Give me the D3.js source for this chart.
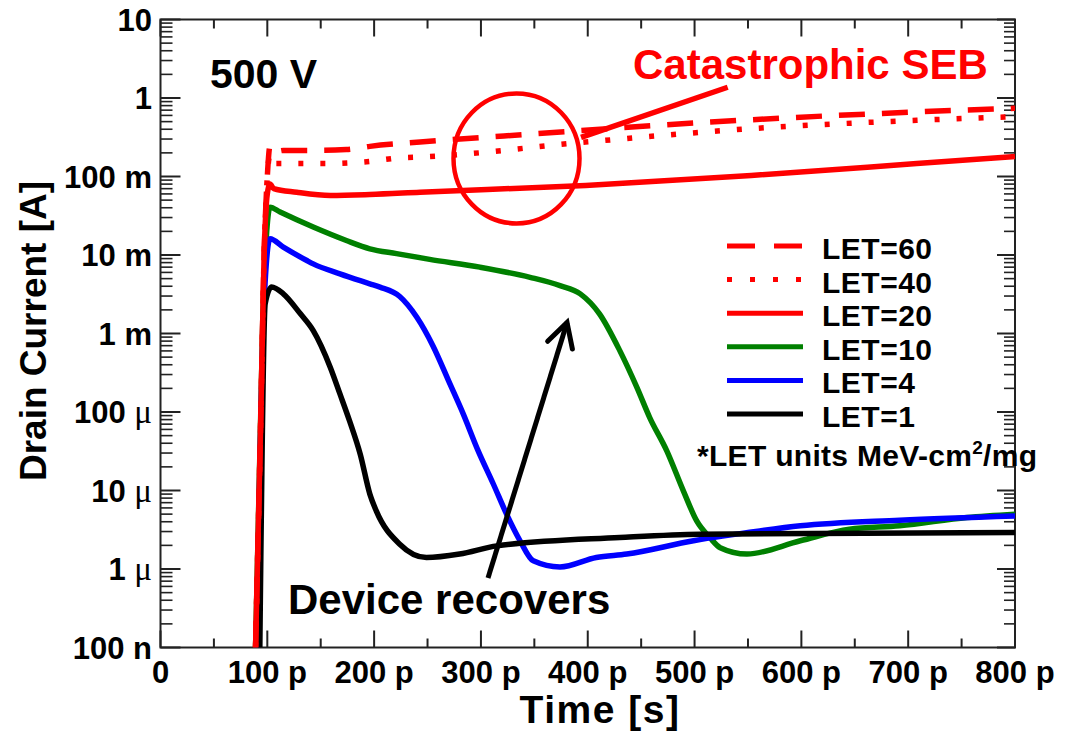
<!DOCTYPE html>
<html><head><meta charset="utf-8">
<script src="https://cdn.jsdelivr.net/npm/d3@7"></script>
<style>
body{margin:0;background:#fff}
svg{display:block}
text{font-family:"Liberation Sans",Arial,Helvetica,sans-serif;font-weight:bold;fill:#000}
</style>
</head><body>
<svg id="c" width="1070" height="734"></svg>
<script>
// ---- data (time in ps, drain current in A) ----
const xTickValues = [0,100,200,300,400,500,600,700,800];
const xTickLabels = ["0","100 p","200 p","300 p","400 p","500 p","600 p","700 p","800 p"];
const yTickValues = [1e-7,1e-6,1e-5,1e-4,1e-3,1e-2,1e-1,1,10];
const yTickNums   = ["100","1","10","100","1","10","100","1","10"];
const yTickUnits  = ["n","\u03bc","\u03bc","\u03bc","m","m","m","",""];

const let60 = [[89,1e-7],[94,1e-4],[97,1e-2],[100,0.1],[102.5,0.242],[106,0.205],[115,0.215],[143,0.215],[174,0.22],[196,0.242],[243,0.275],[352,0.351],[515,0.494],[747,0.697],[800,0.74]];
const let40 = [[89,1e-7],[94,1e-4],[97,1e-2],[100,0.1],[102.5,0.19],[105.6,0.146],[121,0.146],[159,0.146],[190,0.153],[227,0.174],[243,0.177],[398,0.275],[553,0.407],[708,0.52],[790,0.573],[800,0.58]];
const let20 = [[89,1e-7],[94,1e-4],[97,1e-2],[100,0.06],[102.5,0.08],[106,0.07],[127.5,0.063],[159,0.0574],[196,0.059],[243,0.063],[398,0.077],[553,0.103],[708,0.146],[800,0.18]];
const let10 = [[89,1e-7],[96,2e-3],[100,2.5e-2],[102.5,0.0407],[112,0.0352],[143,0.0227],[174,0.0153],[196,0.012],[221,0.0104],[252,0.0088],[299,0.007],[346,0.0052],[374,0.00408],[393,0.0032],[411,0.00178],[430,6.05e-4],[446,2.06e-4],[458,8.5e-5],[474,3.2e-5],[489.5,9.9e-6],[502,4.1e-6],[514.5,2.5e-6],[524,1.87e-6],[549,1.55e-6],[599,2.29e-6],[645,3.22e-6],[692,3.55e-6],[755,4.53e-6],[800,5.0e-6]];
const let4 = [[90,1e-7],[97,2.5e-3],[102.5,0.0161],[115,0.0126],[137,0.0085],[143,0.0077],[168,0.00575],[196,0.0043],[205.5,0.0039],[224,0.00296],[240,0.00161],[255,7.0e-4],[271,2.28e-4],[283.5,9.4e-5],[297,3.3e-5],[311.6,1.21e-5],[324,5.0e-6],[336.6,2.29e-6],[349,1.27e-6],[374,1.06e-6],[408,1.4e-6],[436.5,1.55e-6],[499,2.29e-6],[561,3.06e-6],[599,3.55e-6],[692,4.19e-6],[800,4.75e-6]];
const let1 = [[93,1e-7],[98,2.4e-3],[104,3.9e-3],[115,3.2e-3],[131,1.78e-3],[143,1.09e-3],[159,3.7e-4],[168,1.7e-4],[177,7.7e-5],[187,2.9e-5],[196,9.0e-6],[202,5.5e-6],[224,2.07e-6],[249,1.4e-6],[280,1.55e-6],[315,1.97e-6],[430,2.52e-6],[505,2.78e-6],[800,2.91e-6]];

const seriesNames = ["LET=60","LET=40","LET=20","LET=10","LET=4","LET=1"];
const seriesData  = [let60, let40, let20, let10, let4, let1];
const seriesColors = ["#ff0000","#ff0000","#ff0000","#008000","#0000ff","#000000"];
const seriesDash = ["26,17","5,17",null,null,null,null];
const drawOrder = [3,4,5,2,1,0];

// annotations in data space
const sebCircle = [333.3, 0.17];
const sebPointer = [[531, 1.37],[393.7, 0.315]];
const recoverArrow = [[306.6, 7.7e-7],[380.6, 1.38e-3]];

// ---- layout ----
const svg = d3.select("#c");
const X0 = 160.5, X1 = 1015, Y0 = 647.5, Y1 = 19.5;
const x = d3.scaleLinear().domain([0,800]).range([X0,X1]);
const y = d3.scaleLog().domain([1e-7,10]).range([Y0,Y1]);

svg.append("defs").append("clipPath").attr("id","clip")
  .append("rect").attr("x",X0).attr("y",Y1).attr("width",X1-X0).attr("height",Y0-Y1);

const axisCol = "#222";
const g = svg.append("g");

// ticks
const minorX = d3.range(50,800,100);
xTickValues.forEach(v=>{
  g.append("line").attr("x1",x(v)).attr("x2",x(v)).attr("y1",Y0).attr("y2",Y0-17).attr("stroke",axisCol).attr("stroke-width",2);
  g.append("line").attr("x1",x(v)).attr("x2",x(v)).attr("y1",Y1).attr("y2",Y1+17).attr("stroke",axisCol).attr("stroke-width",2);
});
minorX.forEach(v=>{
  g.append("line").attr("x1",x(v)).attr("x2",x(v)).attr("y1",Y0).attr("y2",Y0-9).attr("stroke",axisCol).attr("stroke-width",2);
  g.append("line").attr("x1",x(v)).attr("x2",x(v)).attr("y1",Y1).attr("y2",Y1+9).attr("stroke",axisCol).attr("stroke-width",2);
});
yTickValues.forEach(v=>{
  g.append("line").attr("x1",X0).attr("x2",X0+20).attr("y1",y(v)).attr("y2",y(v)).attr("stroke",axisCol).attr("stroke-width",2);
  g.append("line").attr("x1",X1).attr("x2",X1-18).attr("y1",y(v)).attr("y2",y(v)).attr("stroke",axisCol).attr("stroke-width",2);
});
yTickValues.slice(0,-1).forEach(d=>{
  for(let k=2;k<=9;k++){
    const v=d*k;
    g.append("line").attr("x1",X0).attr("x2",X0+12).attr("y1",y(v)).attr("y2",y(v)).attr("stroke",axisCol).attr("stroke-width",1.6);
    g.append("line").attr("x1",X1).attr("x2",X1-11).attr("y1",y(v)).attr("y2",y(v)).attr("stroke",axisCol).attr("stroke-width",1.6);
  }
});
g.append("rect").attr("x",X0).attr("y",Y1).attr("width",X1-X0).attr("height",Y0-Y1)
  .attr("fill","none").attr("stroke",axisCol).attr("stroke-width",2);

// tick labels
xTickValues.forEach((v,i)=>{
  g.append("text").attr("x",x(v)).attr("y",683).attr("text-anchor","middle")
   .attr("font-size",31).text(xTickLabels[i]);
});
yTickValues.forEach((v,i)=>{
  const t = g.append("text").attr("x",152).attr("y",y(v)).attr("dy","0.36em")
    .attr("text-anchor","end").attr("font-size",31);
  t.append("tspan").text(yTickNums[i] + (yTickUnits[i] ? " " : ""));
  if(yTickUnits[i]){
    const ts = t.append("tspan").text(yTickUnits[i]);
    if(yTickUnits[i]==="\u03bc") ts.attr("font-weight","normal").attr("font-family","'Liberation Serif',serif").attr("font-size",33);
  }
});

// axis titles
svg.append("text").attr("x",600).attr("y",723).attr("text-anchor","middle").attr("font-size",39).attr("letter-spacing",1.5).text("Time [s]");
svg.append("text").attr("transform","translate(46,331) rotate(-90)").attr("text-anchor","middle").attr("font-size",37).text("Drain Current [A]");

// curves
const line = d3.line().curve(d3.curveMonotoneX).x(d=>x(d[0])).y(d=>y(d[1]));
const cg = svg.append("g").attr("clip-path","url(#clip)");
drawOrder.forEach(i=>{
  const p = cg.append("path").datum(seriesData[i]).attr("d",line)
    .attr("fill","none").attr("stroke",seriesColors[i]).attr("stroke-width",5.5)
    .attr("stroke-linejoin","round");
  if(seriesDash[i]) p.attr("stroke-dasharray",seriesDash[i]);
});

// legend
const lg = svg.append("g");
const legY0 = 246, legDy = 33.6;
seriesNames.forEach((n,i)=>{
  const ly = legY0 + i*legDy;
  const l = lg.append("line").attr("x1",727).attr("x2",803).attr("y1",ly).attr("y2",ly)
    .attr("stroke",seriesColors[i]).attr("stroke-width",5);
  if(seriesDash[i]) l.attr("stroke-dasharray", i===0 ? "28,19" : "5,18");
  lg.append("text").attr("x",822).attr("y",ly+13).attr("font-size",30).attr("letter-spacing",0.5).text(n);
});
const unitsT = lg.append("text").attr("x",697).attr("y",466).attr("font-size",30).attr("letter-spacing",0.3);
unitsT.append("tspan").text("*LET units MeV-cm");
unitsT.append("tspan").attr("font-size",19).attr("dy",-12).text("2");
unitsT.append("tspan").attr("dy",12).text("/mg");

// annotations
svg.append("text").attr("x",210).attr("y",88).attr("font-size",41).text("500 V");
svg.append("text").attr("x",633).attr("y",79).attr("font-size",42).style("fill","#ff0000").text("Catastrophic SEB");
svg.append("ellipse").attr("cx",x(sebCircle[0])).attr("cy",y(sebCircle[1])).attr("rx",63).attr("ry",65)
  .attr("fill","none").attr("stroke","#ff0000").attr("stroke-width",4.5);
svg.append("line").attr("x1",x(sebPointer[0][0])).attr("y1",y(sebPointer[0][1]))
  .attr("x2",x(sebPointer[1][0])).attr("y2",y(sebPointer[1][1]))
  .attr("stroke","#ff0000").attr("stroke-width",5.5);

svg.append("text").attr("x",288).attr("y",614).attr("font-size",42).text("Device recovers");
const ax1 = x(recoverArrow[0][0]), ay1 = y(recoverArrow[0][1]);
const ax2 = x(recoverArrow[1][0]), ay2 = y(recoverArrow[1][1]);
svg.append("line").attr("x1",ax1).attr("y1",ay1).attr("x2",ax2).attr("y2",ay2)
  .attr("stroke","#000").attr("stroke-width",5);
const ang = Math.atan2(ay2-ay1, ax2-ax1);
const hl = 27, ha = 0.5;
const hp = [[ax2 - hl*Math.cos(ang-ha), ay2 - hl*Math.sin(ang-ha)],[ax2,ay2],[ax2 - hl*Math.cos(ang+ha), ay2 - hl*Math.sin(ang+ha)]];
svg.append("path").attr("d", d3.line()(hp)).attr("fill","none").attr("stroke","#000")
  .attr("stroke-width",5).attr("stroke-linejoin","miter").attr("stroke-linecap","round");
</script>
</body></html>
